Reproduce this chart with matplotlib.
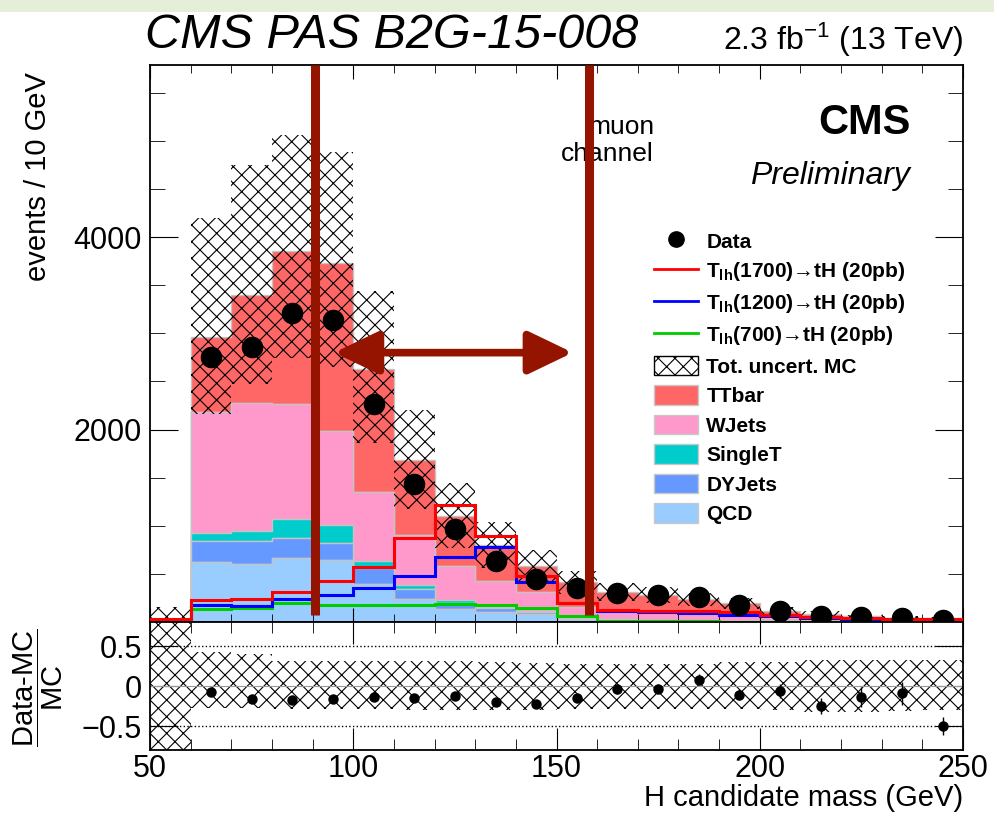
import numpy as np
import matplotlib.pyplot as plt
from matplotlib.patches import Patch, Rectangle
from matplotlib.lines import Line2D
from matplotlib.ticker import MultipleLocator

plt.rcParams['font.family'] = ['Liberation Sans', 'DejaVu Sans']
plt.rcParams['mathtext.fontset'] = 'custom'
plt.rcParams['mathtext.rm'] = 'Liberation Sans'
plt.rcParams['mathtext.bf'] = 'Liberation Sans:bold'
plt.rcParams['mathtext.it'] = 'Liberation Sans:italic'
plt.rcParams['hatch.linewidth'] = 0.8

# Binning: 10 GeV bins from 50 to 250
bin_edges = np.arange(50, 260, 10)
bin_centers = bin_edges[:-1] + 5

# Background MC (stacked bottom -> top)
qcd = [10, 628, 604, 662, 649, 397, 242, 139, 104, 87, 30, 20, 15, 12, 10, 6, 5, 3, 2, 2]
dyjets = [0, 217, 234, 207, 169, 162, 96, 62, 45, 20, 8, 5, 4, 3, 3, 2, 1, 1, 1, 1]
singlet = [0, 79, 111, 200, 193, 79, 49, 24, 7, 5, 4, 3, 2, 2, 2, 1, 1, 1, 1, 0]
wjets = [0, 1255, 1327, 1200, 972, 714, 517, 362, 275, 199, 110, 100, 85, 70, 55, 35, 25, 18, 13, 12]
ttbar = [0, 780, 1120, 1592, 1747, 1276, 779, 517, 366, 269, 263, 185, 179, 149, 124, 74, 52, 35, 27, 25]

# Relative MC uncertainty (up / down)
unc_up = [15, 0.42, 0.40, 0.31, 0.31, 0.31, 0.31, 0.31, 0.30, 0.29,
          0.28, 0.28, 0.28, 0.28, 0.30, 0.30, 0.33, 0.32, 0.32, 0.32]
unc_down = [1.0, 0.27, 0.27, 0.29, 0.29, 0.29, 0.30, 0.30, 0.30, 0.30,
            0.29, 0.29, 0.29, 0.29, 0.29, 0.30, 0.32, 0.32, 0.31, 0.30]

# Signals
sig_1700 = [30, 224, 240, 311, 421, 570, 869, 1214, 897, 483, 200, 121, 118, 115, 100, 70, 50, 40, 35, 30]
sig_1200 = [10, 173, 163, 235, 276, 352, 483, 680, 777, 414, 200, 111, 104, 90, 76, 60, 45, 35, 30, 25]
sig_700 = [0, 131, 145, 201, 180, 173, 180, 186, 173, 145, 60, 10, 8, 6, 5, 4, 3, 2, 2, 1]

# Data
data = [np.nan, 2750, 2862, 3207, 3137, 2269, 1431, 965, 638, 449,
        353, 301, 276, 255, 173, 111, 63, 50, 40, 20]

# Mass window markers
window_lines = [90.6, 158]
arrow_x = [95.3, 154]
arrow_y = 2800

bkg_list = [qcd, dyjets, singlet, wjets, ttbar]
bkg_names = ['QCD', 'DYJets', 'SingleT', 'WJets', 'TTbar']
bkg_colors = ['#99ccff', '#6699ff', '#00cccc', '#ff99cc', '#ff6666']
line_dark = '#941400'

mc_total = np.sum(np.array(bkg_list, dtype=float), axis=0)
data = np.array(data, dtype=float)
unc_up = np.array(unc_up)
unc_down = np.array(unc_down)

fig = plt.figure(figsize=(9.94, 8.16), dpi=100)
fig.patches.append(Rectangle((0, 1 - 12 / 816), 1, 12 / 816, transform=fig.transFigure,
                             facecolor='#e4eed9', edgecolor='none', zorder=-10))

W, H = 994, 816
ax = fig.add_axes([150 / W, 1 - 622 / H, 813 / W, 557 / H])
ax2 = fig.add_axes([150 / W, 1 - 750 / H, 813 / W, 128 / H], sharex=ax)

# ---- main panel ----
ax.hist([bin_centers] * 5, bins=bin_edges, weights=bkg_list, stacked=True,
        histtype='stepfilled', color=bkg_colors, edgecolor='#c4c4c4', linewidth=1.0, zorder=1)

unc_lo = mc_total * (1 - unc_down)
unc_hi = mc_total * (1 + unc_up)
ax.bar(bin_centers, unc_hi - unc_lo, bottom=unc_lo, width=10, fill=False,
       hatch='xx', edgecolor='black', linewidth=0, zorder=2)

ax.stairs(sig_700, bin_edges, color='#00cc00', linewidth=2.2, zorder=3)
ax.stairs(sig_1200, bin_edges, color='#0000ff', linewidth=2.2, zorder=3)
ax.stairs(sig_1700, bin_edges, color='#ff0000', linewidth=2.2, zorder=3)

ax.errorbar(bin_centers, data, yerr=np.sqrt(data), fmt='o', color='black',
            markersize=14.5, elinewidth=1, zorder=5)

ymax = 5790
ax.vlines(window_lines, 70, ymax, color=line_dark, linewidth=6.5, zorder=6)
ax.annotate('', xy=(arrow_x[1], arrow_y), xytext=(arrow_x[0], arrow_y),
            arrowprops=dict(arrowstyle='<|-|>,head_length=1.35,head_width=0.65',
                            mutation_scale=20, color=line_dark, lw=5.5,
                            shrinkA=0, shrinkB=0), zorder=6)

ax.text(174, 5150, 'muon', fontsize=19, ha='right', va='center', zorder=4)
ax.text(174, 4870, 'channel', fontsize=19, ha='right', va='center', zorder=4)
ax.text(0.935, 0.895, 'CMS', transform=ax.transAxes, fontsize=30, fontweight='bold',
        ha='right', va='center')
ax.text(0.935, 0.80, 'Preliminary', transform=ax.transAxes, fontsize=23, style='italic',
        ha='right', va='center')

ax.set_xlim(50, 250)
ax.set_ylim(0, ymax)
ax.set_yticks([0, 2000, 4000])
ax.set_yticklabels(['', '2000', '4000'])
ax.yaxis.set_minor_locator(MultipleLocator(500))
ax.xaxis.set_major_locator(MultipleLocator(50))
ax.xaxis.set_minor_locator(MultipleLocator(10))
ax.tick_params(axis='x', which='both', direction='in', top=True, bottom=True, labelbottom=False)
ax.tick_params(axis='x', which='major', length=10)
ax.tick_params(axis='x', which='minor', length=6)
ax.tick_params(axis='y', which='both', direction='in', left=True, right=True, labelsize=22, pad=6)
ax.tick_params(axis='y', which='major', length=20)
ax.tick_params(axis='y', which='minor', length=11)
for s in ax.spines.values():
    s.set_linewidth(1.3)

# legend
handles = [
    Line2D([], [], marker='o', color='black', linestyle='none', markersize=11),
    Line2D([], [], color='#ff0000', linewidth=2),
    Line2D([], [], color='#0000ff', linewidth=2),
    Line2D([], [], color='#00cc00', linewidth=2),
    Patch(facecolor='white', edgecolor='black', hatch='xx', linewidth=1),
]
labels = ['Data',
          r'$\mathbf{T_{lh}}$(1700)→tH (20pb)',
          r'$\mathbf{T_{lh}}$(1200)→tH (20pb)',
          r'$\mathbf{T_{lh}}$(700)→tH (20pb)',
          'Tot. uncert. MC']
for name, col in zip(bkg_names[::-1], bkg_colors[::-1]):
    handles.append(Patch(facecolor=col, edgecolor='#c8c8c8', linewidth=1))
    labels.append(name)
ax.legend(handles, labels, loc='upper left', bbox_to_anchor=(0.61, 0.717), frameon=False,
          prop={'weight': 'bold', 'size': 15}, handlelength=2.1, handleheight=1.05,
          labelspacing=0.42, handletextpad=0.4, borderaxespad=0)

# ---- ratio panel ----
ratio = data / mc_total - 1
ratio_err = np.sqrt(data) / mc_total
ax2.bar(bin_centers, unc_up + unc_down, bottom=-unc_down, width=10, fill=False,
        hatch='xx', edgecolor='black', linewidth=0, zorder=1)
ax2.axhline(0.5, color='black', linestyle=':', linewidth=1, zorder=2)
ax2.axhline(-0.5, color='black', linestyle=':', linewidth=1, zorder=2)
ax2.axhline(0, color='#999999', linewidth=0.8, zorder=2)
ax2.errorbar(bin_centers, ratio, yerr=ratio_err, fmt='o', color='black',
             markersize=6.5, elinewidth=1, zorder=3)

ax2.set_ylim(-0.8, 0.8)
ax2.set_yticks([-0.5, 0, 0.5])
ax2.set_yticklabels(['\u22120.5', '0', '0.5'])
ax2.tick_params(axis='x', which='both', direction='in', top=True, labelsize=22, pad=3)
ax2.tick_params(axis='x', which='major', length=16)
ax2.tick_params(axis='x', which='minor', length=8)
ax2.tick_params(axis='y', which='major', direction='in', left=True, right=True,
                length=20, labelsize=22, pad=6)
for s in ax2.spines.values():
    s.set_linewidth(1.3)

# axis titles and header
fig.text(38 / W, 1 - 72 / H, 'events / 10 GeV', rotation=90, fontsize=21, ha='center', va='top')
fig.text(38 / W, 1 - 688 / H, r'$\dfrac{\mathrm{Data\text{-}MC}}{\mathrm{MC}}$', rotation=90,
         fontsize=21, ha='center', va='center')
fig.text(963 / W, 1 - 812 / H, 'H candidate mass (GeV)', fontsize=21, ha='right', va='bottom')
fig.text(145 / W, 1 - 36 / H, 'CMS PAS B2G-15-008', fontsize=35, style='italic',
         ha='left', va='center')
fig.text(963 / W, 1 - 40 / H, r'2.3 fb$^{-1}$ (13 TeV)', fontsize=23, ha='right', va='center')

plt.savefig('out.png', dpi=100)
